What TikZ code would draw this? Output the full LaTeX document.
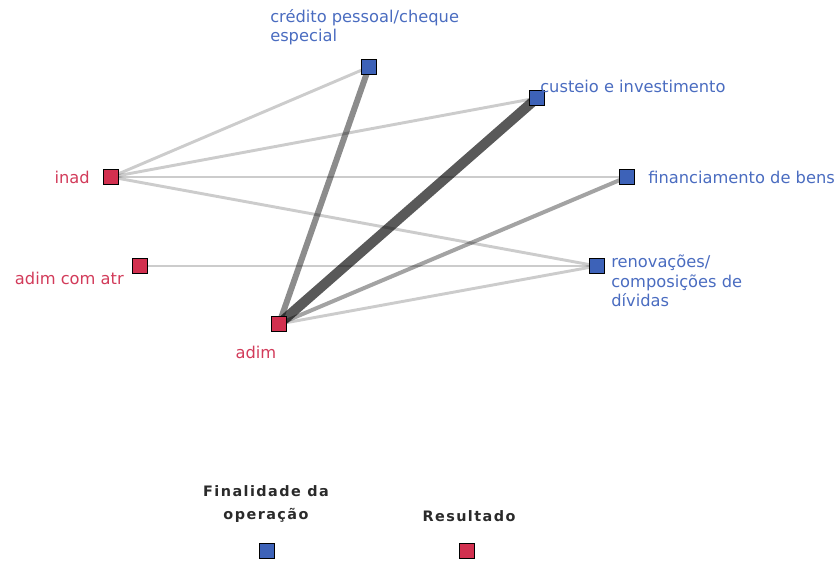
\documentclass[tikz,border=0pt]{standalone}
\usepackage{fontspec}
\setmainfont{DejaVu Sans}
\newfontfamily\legfont[LetterSpace=10]{DejaVu Sans}
\usetikzlibrary{backgrounds}
\definecolor{redsq}{HTML}{D2304F}
\definecolor{bluesq}{HTML}{3D62B8}
\definecolor{redtxt}{HTML}{D23B5A}
\definecolor{bluetxt}{HTML}{4A6CC0}
\definecolor{legtxt}{HTML}{2A2A2A}
\begin{document}
\begin{tikzpicture}[x=0.75pt,y=-0.75pt,
  sq/.style={draw=black, line width=1.2pt, minimum size=11pt, inner sep=0pt},
  res/.style={sq, fill=redsq},
  fin/.style={sq, fill=bluesq},
  lbl/.style={font=\fontsize{12.2}{14.5}\selectfont, inner sep=0pt, align=left},
  rlbl/.style={lbl, text=redtxt},
  blbl/.style={lbl, text=bluetxt},
  leg/.style={font=\legfont\bfseries\fontsize{10.8}{17}\selectfont, text=legtxt, inner sep=0pt, align=center},
  link/.style={draw=black, draw opacity=#1, line cap=butt},
  thin/.style={link=0.2, line width=2.2pt},
  mid/.style={link=0.36, line width=3pt},
  wide/.style={link=0.45, line width=4.5pt},
  heavy/.style={link=0.65, line width=7.5pt}
]
\useasboundingbox (0,0) rectangle (839,563);

% outcome nodes
\node[res] (inad) at (111,177) {};
\node[res] (atr)  at (140,266) {};
\node[res] (adim) at (279,324) {};

% purpose nodes
\node[fin] (cred) at (369,67) {};
\node[fin] (cust) at (537,98) {};
\node[fin] (finb) at (627,177) {};
\node[fin] (reno) at (597,266) {};

% labels
\node[rlbl, anchor=east] (linad) at (90,177) {inad};
\node[rlbl, anchor=east] (latr) at (124,278) {adim com atr};
\node[rlbl] (ladim) at (256,352) {adim};
\node[blbl, anchor=north west] (lcred) at (270,9) {crédito pessoal/cheque\\especial};
\node[blbl, anchor=west] (lcust) at (540,86) {custeio e investimento};
\node[blbl, anchor=west] (lfinb) at (648,177) {financiamento de bens};
\node[blbl, anchor=north west] (lreno) at (611,255) {renovações/\\composições de\\dívidas};

% links
\begin{scope}[on background layer]
  \draw[thin] (inad.center) -- (cred.center);
  \draw[thin] (inad.center) -- (cust.center);
  \draw[thin] (inad.center) -- (finb.center);
  \draw[thin] (inad.center) -- (reno.center);
  \draw[thin] (atr.center) -- (reno.center);
  \draw[thin] (adim.center) -- (reno.center);
  \draw[mid] (adim.center) -- (finb.center);
  \draw[wide] (adim.center) -- (cred.center);
  \draw[heavy] (adim.center) -- (cust.center);
\end{scope}

% legend
\node[leg] (legfin) at (266,504) {Finalidade da\\operação};
\node[leg] (legres) at (469,516) {Resultado};
\node[fin] (keyfin) at (267,551) {};
\node[res] (keyres) at (467,551) {};
\end{tikzpicture}
\end{document}
